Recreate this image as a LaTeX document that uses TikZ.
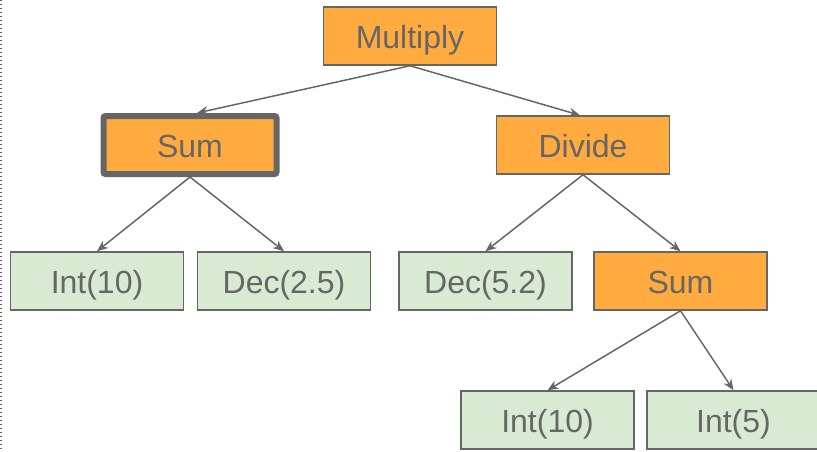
\documentclass[tikz,border=0pt]{standalone}
\usepackage{fontspec}
\setmainfont{Liberation Sans}
\usetikzlibrary{arrows.meta}
\definecolor{opgray}{HTML}{666666}
\definecolor{oporange}{HTML}{FFAB40}
\definecolor{litgreen}{HTML}{D9EAD3}

\begin{document}
\begin{tikzpicture}[x=1pt, y=-1pt,
	every node/.style = {align=center, draw=opgray, line width=1.5pt, inner sep=0pt,
		minimum width=173pt, minimum height=58pt, text=opgray,
		text height=24pt, text depth=0pt,
		font=\fontsize{32}{36}\selectfont},
	opnode/.style = {fill=oporange},
	litnode/.style = {fill=litgreen},
	current/.style = {line width=6pt, rounded corners=2pt},
	link/.style = {draw=opgray, line width=1.5pt, -{Stealth[length=11pt, width=9pt]}}]

\useasboundingbox (0,0) rectangle (817,451);
\clip (0,0) rectangle (817,451);

\draw[opgray, line width=1.3pt, dash pattern=on 1.3pt off 2.7pt] (1,0) -- (1,451);

\node[opnode] (mult) at (410,36) {Multiply};
\node[opnode, current] (sumA) at (190,145) {Sum};
\node[opnode] (divide) at (583,145) {Divide};
\node[litnode] (intA) at (97,281) {Int(10)};
\node[litnode] (decA) at (284,281) {Dec(2.5)};
\node[litnode] (decB) at (485.5,281) {Dec(5.2)};
\node[opnode] (sumB) at (680.5,281) {Sum};
\node[litnode] (intB) at (547.5,420) {Int(10)};
\node[litnode] (intC) at (733.5,420) {Int(5)};

\draw[link] (mult.south) -- ([xshift=7pt]sumA.north);
\draw[link] (mult.south) -- ([xshift=-3pt]divide.north);
\draw[link] (sumA.south) -- (intA.north);
\draw[link] (sumA.south) -- (decA.north);
\draw[link] (divide.south) -- (decB.north);
\draw[link] (divide.south) -- (sumB.north);
\draw[link] (sumB.south) -- (intB.north);
\draw[link] (sumB.south) -- (intC.north);
\end{tikzpicture}
\end{document}
